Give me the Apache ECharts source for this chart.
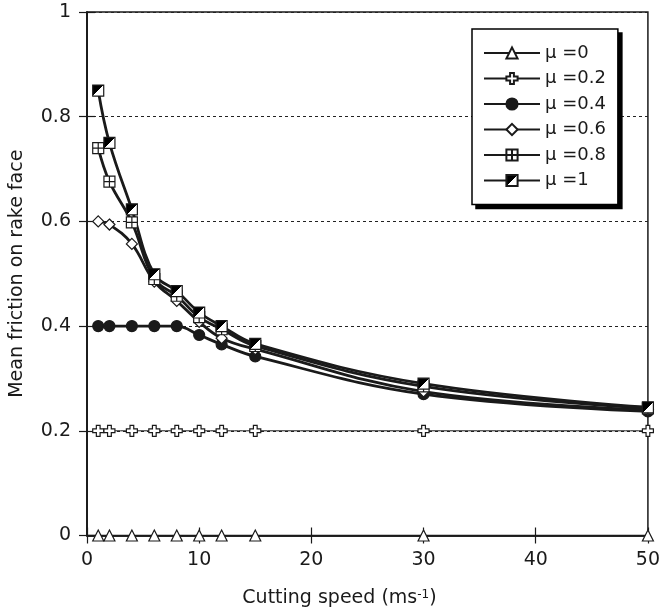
<!DOCTYPE html>
<html>
<head>
<meta charset="utf-8">
<script src="https://cdn.jsdelivr.net/npm/echarts@6/dist/echarts.min.js"></script>
<style>
html,body{margin:0;padding:0;background:#fff;}
#chart{width:663px;height:613px;}
</style>
</head>
<body>
<div id="chart"></div>
<script>
// ---- data ----
var speeds = [1, 2, 4, 6, 8, 10, 12, 15, 30, 50];
var seriesNames = ['\u03bc =0', '\u03bc =0.2', '\u03bc =0.4', '\u03bc =0.6', '\u03bc =0.8', '\u03bc =1'];
var mu0  = [0, 0, 0, 0, 0, 0, 0, 0, 0, 0];
var mu02 = [0.2, 0.2, 0.2, 0.2, 0.2, 0.2, 0.2, 0.2, 0.2, 0.2];
var mu04 = [0.4, 0.4, 0.4, 0.4, 0.4, 0.383, 0.365, 0.342, 0.27, 0.237];
var mu06 = [0.6, 0.594, 0.557, 0.485, 0.448, 0.408, 0.377, 0.356, 0.275, 0.24];
var mu08 = [0.74, 0.676, 0.598, 0.49, 0.458, 0.417, 0.394, 0.362, 0.285, 0.243];
var mu1  = [0.85, 0.75, 0.623, 0.499, 0.467, 0.426, 0.40, 0.366, 0.29, 0.245];
var xTicks = [0, 10, 20, 30, 40, 50];
var yTicks = [0, 0.2, 0.4, 0.6, 0.8, 1];

function pairs(ys) { return speeds.map(function (x, i) { return [x, ys[i]]; }); }

var FONT = "'DejaVu Sans', sans-serif";
var INK = '#1a1a1a';

var halfFill = {
  type: 'linear', x: 0, y: 0, x2: 1, y2: 1,
  colorStops: [
    {offset: 0, color: '#000'}, {offset: 0.5, color: '#000'},
    {offset: 0.5, color: '#fff'}, {offset: 1, color: '#fff'}
  ]
};

function mkSeries(name, ys, symbol, size, fill, width) {
  return {
    name: name, type: 'line', data: pairs(ys),
    symbol: symbol, symbolSize: size,
    smooth: 0.4,
    lineStyle: {color: INK, width: width},
    itemStyle: {color: fill, borderColor: INK, borderWidth: 1.2},
    emphasis: {disabled: true},
    z: 3
  };
}

var chart = echarts.init(document.getElementById('chart'), null, {renderer: 'canvas'});
chart.setOption({
  animation: false,
  backgroundColor: '#fff',
  textStyle: {fontFamily: FONT},
  grid: {left: 80, right: 11, top: 12, bottom: 75, show: true, borderColor: INK, borderWidth: 1.5, backgroundColor: 'transparent'},
  legend: {
    data: seriesNames,
    orient: 'vertical',
    left: 472, top: 29,
    padding: [15, 12, 15, 11],
    itemWidth: 56, itemHeight: 14, itemGap: 7.5,
    backgroundColor: '#fff',
    borderColor: '#000', borderWidth: 1.5,
    z: 20,
    textStyle: {fontFamily: FONT, fontSize: 18, color: INK, lineHeight: 17},
    selectedMode: false
  },
  xAxis: [{
    type: 'value', min: 0, max: 50, interval: 10,
    name: 'Cutting speed (ms{sup|-1})',
    nameLocation: 'middle', nameGap: 53,
    nameTextStyle: {fontFamily: FONT, fontSize: 19, color: INK, padding: [0, 56, 0, 0],
      rich: {sup: {fontFamily: FONT, fontSize: 12, color: INK, verticalAlign: 'top', padding: [0, 0, 8, 0]}}},
    axisLine: {show: true, lineStyle: {color: INK, width: 1.5}},
    axisTick: {show: true, inside: true, length: 8, lineStyle: {color: INK, width: 1.2}},
    axisLabel: {fontFamily: FONT, fontSize: 19, color: INK, margin: 15,
      formatter: function (v) { return xTicks.indexOf(v) >= 0 ? String(v) : ''; }},
    splitLine: {show: false}
  }, {
    type: 'value', position: 'top', min: 0, max: 50, interval: 10,
    axisLine: {show: true, lineStyle: {color: INK, width: 1.5}},
    axisTick: {show: true, inside: true, length: 8, lineStyle: {color: INK, width: 1.2}},
    axisLabel: {show: false}, splitLine: {show: false}
  }],
  yAxis: [{
    type: 'value', min: 0, max: 1, interval: 0.2,
    name: 'Mean friction on rake face',
    nameLocation: 'middle', nameGap: 60,
    nameTextStyle: {fontFamily: FONT, fontSize: 19, color: INK},
    axisLine: {show: true, lineStyle: {color: INK, width: 1.5}},
    axisTick: {show: true, inside: true, length: 8, lineStyle: {color: INK, width: 1.2}},
    axisLabel: {fontFamily: FONT, fontSize: 19, color: INK, margin: 16,
      formatter: function (v) { var r = Math.round(v * 10) / 10; return yTicks.indexOf(r) >= 0 ? String(r) : ''; }},
    splitLine: {show: true, lineStyle: {color: '#222', width: 1, type: [3, 3]}}
  }, {
    type: 'value', position: 'right', min: 0, max: 1, interval: 0.2,
    axisLine: {show: true, lineStyle: {color: INK, width: 1.5}},
    axisTick: {show: true, inside: true, length: 8, lineStyle: {color: INK, width: 1.2}},
    axisLabel: {show: false}, splitLine: {show: false}
  }],
  series: [
    mkSeries(seriesNames[0], mu0, 'triangle', 11, '#fff', 1),
    mkSeries(seriesNames[1], mu02, 'path://M3.3,0H6.7V3.3H10V6.7H6.7V10H3.3V6.7H0V3.3H3.3Z', 11, '#fff', 1),
    mkSeries(seriesNames[2], mu04, 'circle', 11, INK, 2.8),
    mkSeries(seriesNames[3], mu06, 'diamond', 11, '#fff', 2.8),
    mkSeries(seriesNames[4], mu08, 'path://M0,0H10V10H0ZM5,0V10M0,5H10', 11, '#fff', 2.8),
    mkSeries(seriesNames[5], mu1, 'rect', 11, halfFill, 2.8)
  ]
});

// drop shadow behind the legend box, sized from the rendered legend
(function () {
  var legendModel = chart.getModel().getComponent('legend');
  var view = chart.getViewOfComponentModel(legendModel);
  var rect = view && view.group ? view.group.getBoundingRect() : null;
  if (rect) {
    var gx = view.group.x || 0;
    var gy = view.group.y || 0;
    chart.setOption({
      graphic: [{
        type: 'rect', z: 10, silent: true,
        shape: {x: gx + rect.x + 4, y: gy + rect.y + 4, width: rect.width, height: rect.height},
        style: {fill: '#000'}
      }]
    });
  }
})();
</script>
</body>
</html>
